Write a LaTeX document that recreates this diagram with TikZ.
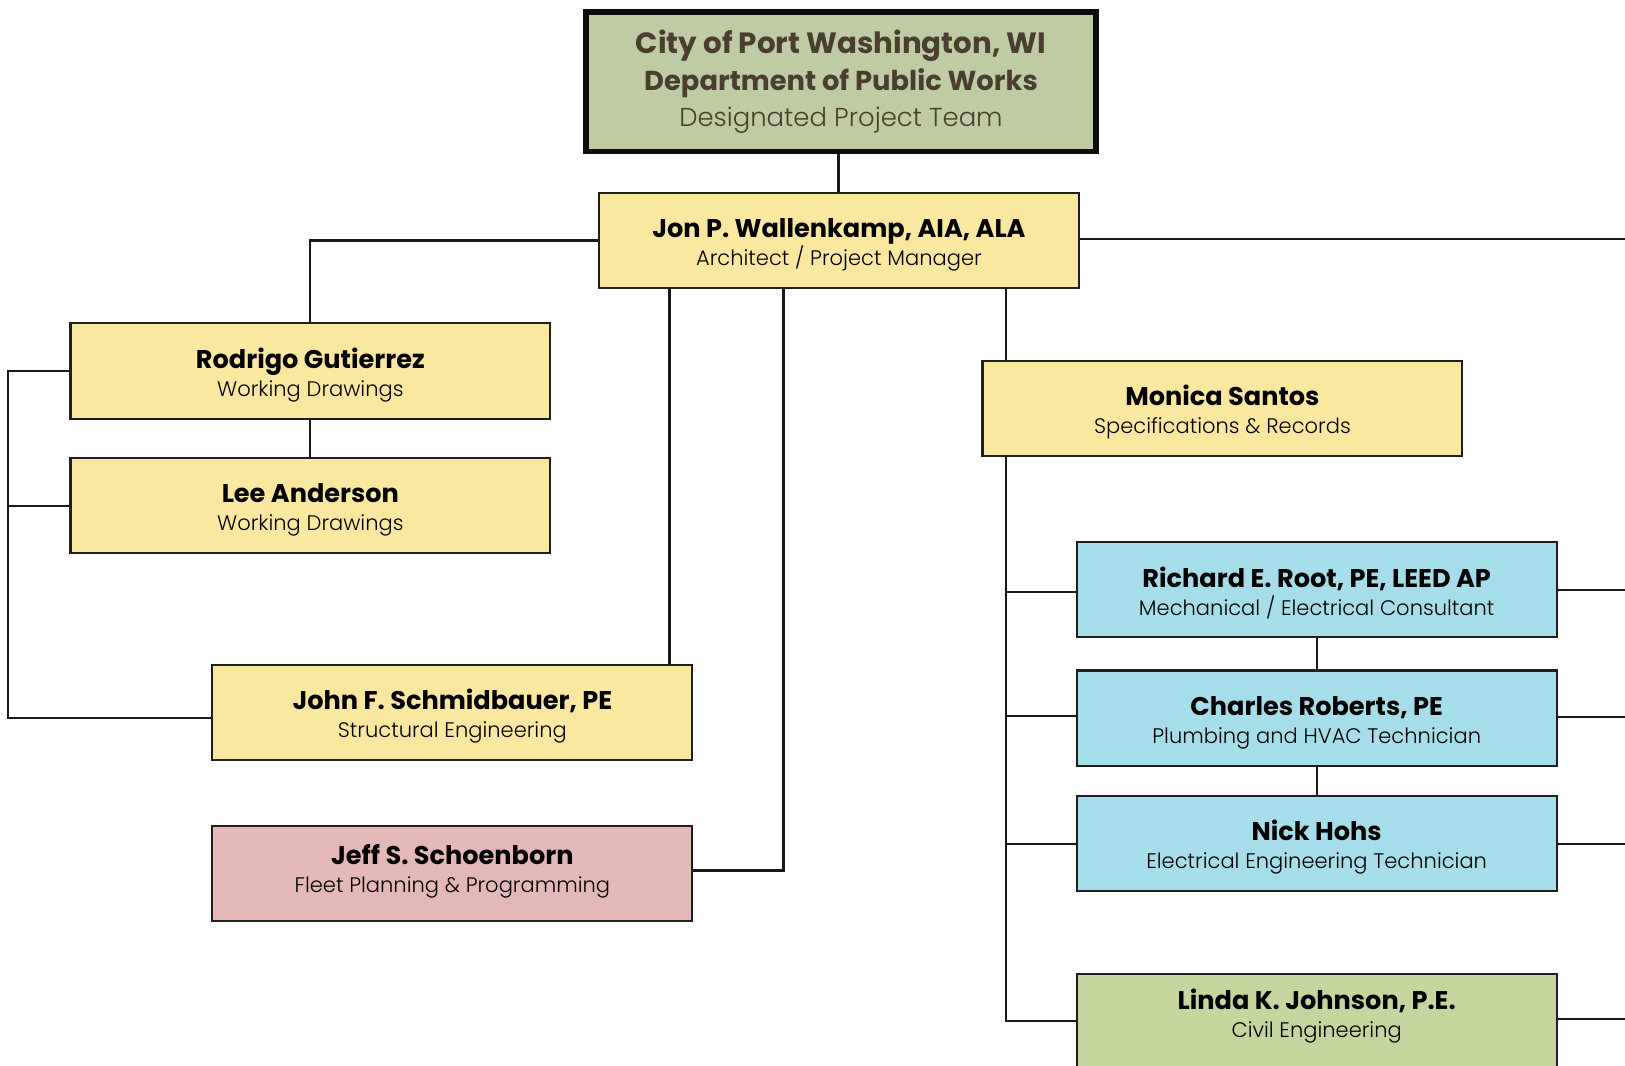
\documentclass[tikz,border=0pt]{standalone}
\usepackage{fontspec}
\setmainfont{Poppins}
\newfontfamily\plight{Poppins Light}
\definecolor{yelfill}{HTML}{FAE8A0}
\definecolor{bluefill}{HTML}{A5DEEA}
\definecolor{pinkfill}{HTML}{E5B8B8}
\definecolor{greenfill}{HTML}{C4D69E}
\definecolor{topfill}{HTML}{BFCBA3}
\definecolor{toptext}{HTML}{4A3F2E}
\newcommand{\pname}[1]{{\fontsize{24.7}{27}\selectfont\bfseries\rule{0pt}{27pt}#1}}
\newcommand{\psub}[1]{{\fontsize{20.3}{27}\selectfont\plight #1}}
\tikzset{
  person/.style={draw=black!88, line width=2pt, minimum width=463pt, minimum height=92pt,
    align=center, inner sep=0pt, font=\fontsize{20.3}{27}\selectfont},
  yelbox/.style={person, fill=yelfill},
  bluebox/.style={person, fill=bluefill},
  pinkbox/.style={person, fill=pinkfill},
  greenbox/.style={person, fill=greenfill},
  conn/.style={line width=2.1pt, black!90},
}
\begin{document}
\begin{tikzpicture}[x=1pt,y=-1pt]
\useasboundingbox[fill=white] (0,0) rectangle (1568,1028);
\node (top) [draw=black!95, line width=5pt, fill=topfill, minimum width=492pt, minimum height=135pt,
  align=center, inner sep=0pt, text=toptext, font=\fontsize{28.3}{35}\selectfont] at (811.5,79)
  {\textbf{City of Port Washington, WI}\\{\fontsize{26.4}{35}\selectfont\bfseries Department of Public Works}\\{\fontsize{25}{35}\selectfont\plight Designated Project Team}};
\node (jon) [yelbox] at (809.5,232) {\pname{Jon P. Wallenkamp, AIA, ALA}\\\psub{Architect / Project Manager}};
\node (rod) [yelbox] at (299.5,358) {\pname{Rodrigo Gutierrez}\\\psub{Working Drawings}};
\node (lee) [yelbox] at (299.5,488) {\pname{Lee Anderson}\\\psub{Working Drawings}};
\node (john) [yelbox] at (436.5,687.5) {\pname{John F. Schmidbauer, PE}\\\psub{Structural Engineering}};
\node (jeff) [pinkbox] at (436.5,843) {\pname{Jeff S. Schoenborn}\\\psub{Fleet Planning \& Programming}\rule[-18pt]{0pt}{1pt}};
\node (mon) [yelbox] at (1179.5,394) {\pname{Monica Santos}\\\psub{Specifications \& Records}};
\node (rich) [bluebox] at (1270.5,569) {\pname{Richard E. Root, PE, LEED AP}\\\psub{Mechanical / Electrical Consultant}};
\node (char) [bluebox] at (1270.5,693) {\pname{Charles Roberts, PE}\\\psub{Plumbing and HVAC Technician}};
\node (nick) [bluebox] at (1270.5,814) {\pname{Nick Hohs}\\\psub{Electrical Engineering Technician}};
\node (linda) [greenbox, minimum height=100pt] at (1270.5,990) {};
\node (lindatxt) [align=center, inner sep=0pt, font=\fontsize{20.3}{27}\selectfont] at (1270.5,977)
  {\pname{Linda K. Johnson, P.E.}\\\psub{Civil Engineering}};
% connectors
\draw[conn] (top.south -| 809,0) -- (jon.north -| 809,0);
\draw[conn] (jon.west) -| (rod.north);
\draw[conn] (rod.south) -- (lee.north);
\draw[conn] (rod.west) -- (rod.west -| 8,0) |- ([yshift=-5.5pt]john.west);
\draw[conn] (lee.west) -- (lee.west -| 8,0);
\draw[conn] (jon.south -| 646,0) -- (john.north -| 646,0);
\draw[conn] (jon.south -| 756,0) |- ([yshift=3pt]jeff.east);
\draw[conn] (jon.south -| 971,0) -- (mon.north -| 971,0);
\draw[conn] (mon.south -| 971,0) |- ([yshift=5pt]linda.west);
\draw[conn] ([yshift=-2pt]rich.west -| 971,0) -- ([yshift=-2pt]rich.west);
\draw[conn] ([yshift=2pt]char.west -| 971,0) -- ([yshift=2pt]char.west);
\draw[conn] (nick.west -| 971,0) -- (nick.west);
\draw[conn] (rich.south) -- (char.north);
\draw[conn] (char.south) -- (nick.north);
\coordinate (e0) at (1568,231);
\draw[conn] ([yshift=1pt]jon.east) -- (e0);
\draw[conn] (rich.east) -- (rich.east -| 1568,0);
\draw[conn] ([yshift=1pt]char.east) -- ([yshift=1pt]char.east -| 1568,0);
\draw[conn] (nick.east) -- (nick.east -| 1568,0);
\draw[conn] ([yshift=7pt]linda.east) -- ([yshift=7pt]linda.east -| 1568,0);
\end{tikzpicture}
\end{document}
